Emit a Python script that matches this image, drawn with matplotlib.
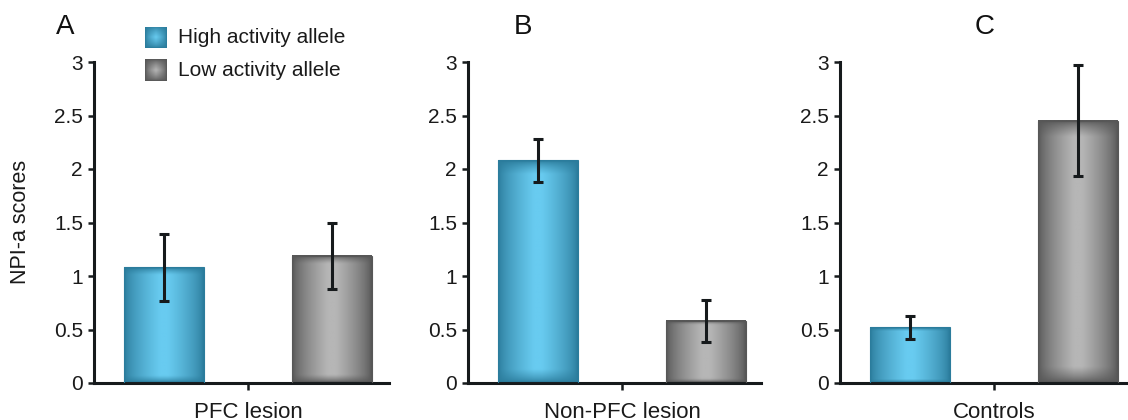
import numpy as np
import matplotlib.pyplot as plt
from matplotlib.colors import to_rgb

plt.rcParams['font.family'] = ['Liberation Sans', 'DejaVu Sans']

panels = ['A', 'B', 'C']
groups = ['PFC lesion', 'Non-PFC lesion', 'Controls']
series = ['High activity allele', 'Low activity allele']
high_mean = [1.08, 2.08, 0.52]
high_err = [0.31, 0.20, 0.11]
low_mean = [1.19, 0.58, 2.45]
low_err = [0.31, 0.20, 0.52]

colors = {
    'High activity allele': ('#2b7c9c', '#68cbf0'),
    'Low activity allele': ('#575757', '#b6b6b6'),
}
ink = '#161a1c'


def gradient_img(edge, center, nx=60, ny=200, fx=0.45, fy=0.06):
    # darker towards the edges, lighter in the middle
    u = np.linspace(0, 1, nx)
    v = np.linspace(0, 1, ny)
    dx = np.minimum(u, 1 - u) / fx
    dy = np.minimum(v, 1 - v) / fy
    gx = np.clip(dx, 0, 1) ** 0.7
    gy = np.clip(dy, 0, 1) ** 0.7
    g = gy[:, None] * gx[None, :]
    e = np.array(to_rgb(edge))
    c = np.array(to_rgb(center))
    return e + (c - e) * g[..., None]


def draw_bar(ax, x, h, width, name):
    edge, center = colors[name]
    ny = max(int(200 * h / 3), 20)
    img = gradient_img(edge, center, ny=ny)
    ax.imshow(img, extent=[x - width / 2, x + width / 2, 0, h],
              aspect='auto', origin='lower', zorder=2, interpolation='bilinear')
    ax.add_patch(plt.Rectangle((x - width / 2, 0), width, h, fill=False,
                               edgecolor=edge, lw=0.8, zorder=3))


fig = plt.figure(figsize=(11.28, 4.2), dpi=100)
W, H = 1128, 420
lefts = [94, 468, 840]
widths = [295, 293, 290]
y_top, y_bot = 62, 383
bar_w = 80 / 168

for i, (letter, grp) in enumerate(zip(panels, groups)):
    ax = fig.add_axes([lefts[i] / W, 1 - y_bot / H, widths[i] / W, (y_bot - y_top) / H])
    xs = [0, 1]
    means = [high_mean[i], low_mean[i]]
    errs = [high_err[i], low_err[i]]
    for x, m, s in zip(xs, means, series):
        draw_bar(ax, x, m, bar_w, s)
    ax.errorbar(xs, means, yerr=errs, fmt='none', ecolor=ink, elinewidth=2.2,
                capsize=3.8, capthick=2.2, zorder=4)
    ax.set_xlim(-70 / 168, (widths[i] - 70) / 168)
    ax.set_ylim(0, 3)
    ax.set_yticks(np.arange(0, 3.01, 0.5))
    ax.set_yticklabels(['%g' % t for t in np.arange(0, 3.01, 0.5)])
    ax.set_xticks([0.5])
    ax.set_xticklabels([grp])
    for side in ['top', 'right']:
        ax.spines[side].set_visible(False)
    for side in ['left', 'bottom']:
        ax.spines[side].set_linewidth(2.2)
        ax.spines[side].set_color(ink)
    ax.tick_params(axis='y', length=4, width=1.8, color=ink, labelsize=15,
                   labelcolor='#1a1a1a', pad=4)
    ax.tick_params(axis='x', length=5, width=1.8, color=ink, labelsize=16,
                   labelcolor='#1a1a1a', pad=9)
    ax.patch.set_alpha(0)
    fig.text([65, 523, 985][i] / W, 1 - 27 / H, letter, fontsize=20,
             ha='center', va='center', color='#111')

fig.text(21 / W, 1 - 222 / H, 'NPI-a scores', rotation=90, fontsize=15.5,
         ha='center', va='center', color='#1a1a1a')

# legend
for j, s in enumerate(series):
    yc = [37.5, 70][j]
    lax = fig.add_axes([145 / W, 1 - (yc + 11) / H, 22 / W, 22 / H])
    edge, center = colors[s]
    lax.imshow(gradient_img(edge, center, nx=30, ny=30, fx=0.5, fy=0.5),
               extent=[0, 1, 0, 1], aspect='auto', interpolation='bilinear')
    lax.axis('off')
    fig.text(178 / W, 1 - yc / H, s, fontsize=15, ha='left', va='center', color='#1a1a1a')

fig.savefig('out.png', dpi=100)
